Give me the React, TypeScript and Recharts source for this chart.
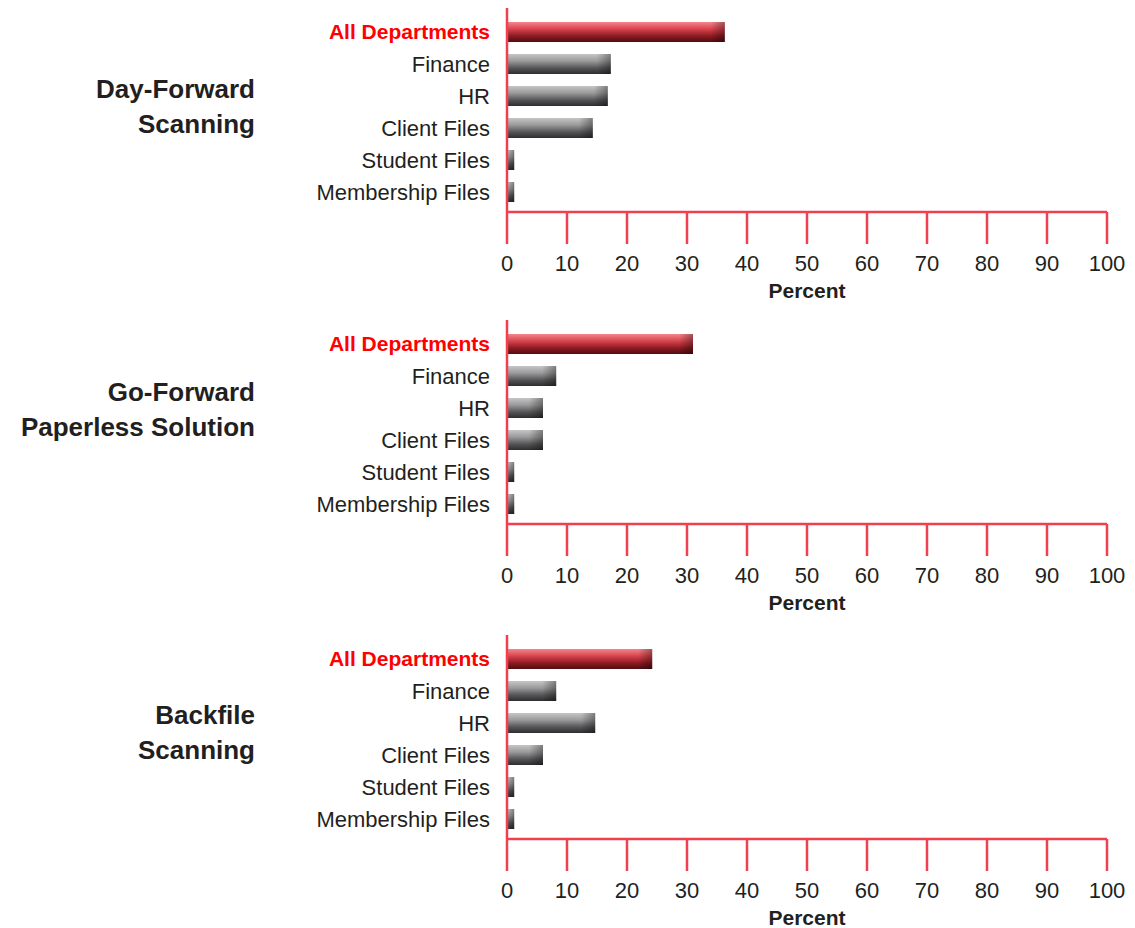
import React from 'react';
import { BarChart, Bar, XAxis, YAxis } from 'recharts';

// categories and percentages for each panel
const departments = [
  'All Departments',
  'Finance',
  'HR',
  'Client Files',
  'Student Files',
  'Membership Files',
];
const dayForwardValues = [36.3, 17.3, 16.8, 14.3, 1.2, 1.2];
const goForwardValues = [31.0, 8.2, 6.0, 6.0, 1.2, 1.2];
const backfileValues = [24.2, 8.2, 14.7, 6.0, 1.2, 1.2];
const percentTicks = [0, 10, 20, 30, 40, 50, 60, 70, 80, 90, 100];

const panels = [
  { id: 'day', title: ['Day-Forward', 'Scanning'], values: dayForwardValues, top: 0, titleTop: 72 },
  { id: 'go', title: ['Go-Forward', 'Paperless Solution'], values: goForwardValues, top: 312, titleTop: 375 },
  { id: 'back', title: ['Backfile', 'Scanning'], values: backfileValues, top: 627, titleTop: 698 },
];

const FONT = '"Liberation Sans", Arial, sans-serif';
const AXIS_RED = '#ef4050';
const TEXT = '#231f20';
const HIGHLIGHT = 'All Departments';

const DeptTick = (props: any) => {
  const { x, y, payload } = props;
  const hl = payload.value === HIGHLIGHT;
  return (
    <text
      x={x}
      y={y}
      dy="0.355em"
      textAnchor="end"
      fontFamily={FONT}
      fontSize={hl ? 21 : 22}
      fontWeight={hl ? 'bold' : 'normal'}
      fill={hl ? '#ff0000' : TEXT}
    >
      {payload.value}
    </text>
  );
};

// shaded bar: vertical gradient plus a darker fade at the end
const makeShape = (prefix: string) => (props: any) => {
  const { x, y, width, height, payload } = props;
  if (!width || width <= 0) return null;
  const hl = payload && payload.name === HIGHLIGHT;
  const base = hl ? `${prefix}-red` : `${prefix}-gray`;
  const endW = Math.min(14, width);
  return (
    <g>
      <rect x={x} y={y} width={width} height={height} fill={`url(#${base})`} />
      <rect x={x + width - endW} y={y} width={endW} height={height} fill={`url(#${prefix}-end)`} />
    </g>
  );
};

function Panel({ id, title, values, top, titleTop }: (typeof panels)[number]) {
  const data = departments.map((name, i) => ({ name, value: values[i] }));
  return (
    <>
      <div
        style={{
          position: 'absolute',
          left: 0,
          top: titleTop,
          width: 255,
          textAlign: 'right',
          fontFamily: FONT,
          fontWeight: 'bold',
          fontSize: 26,
          lineHeight: '35px',
          color: TEXT,
        }}
      >
        {title.map((line) => (
          <div key={line}>{line}</div>
        ))}
      </div>
      <div style={{ position: 'absolute', left: 0, top, width: 1135, height: 304 }}>
        <BarChart
          width={1135}
          height={304}
          data={data}
          layout="vertical"
          margin={{ top: 8, right: 28, left: 0, bottom: 0 }}
        >
          <defs>
            <linearGradient id={`${id}-red`} x1="0" y1="0" x2="0" y2="1">
              <stop offset="0%" stopColor="#f5868c" />
              <stop offset="35%" stopColor="#d8444e" />
              <stop offset="70%" stopColor="#8e1a22" />
              <stop offset="100%" stopColor="#4e0d11" />
            </linearGradient>
            <linearGradient id={`${id}-gray`} x1="0" y1="0" x2="0" y2="1">
              <stop offset="0%" stopColor="#c6c6c6" />
              <stop offset="35%" stopColor="#9a9a9b" />
              <stop offset="70%" stopColor="#555557" />
              <stop offset="100%" stopColor="#2e2e30" />
            </linearGradient>
            <linearGradient id={`${id}-end`} x1="0" y1="0" x2="1" y2="0">
              <stop offset="0%" stopColor="#000" stopOpacity={0} />
              <stop offset="100%" stopColor="#000" stopOpacity={0.35} />
            </linearGradient>
          </defs>
          <Bar
            dataKey="value"
            barSize={20}
            shape={makeShape(id)}
            isAnimationActive={false}
          />
          <XAxis
            type="number"
            domain={[0, 100]}
            ticks={percentTicks}
            interval={0}
            height={92}
            tickSize={32}
            tickMargin={11}
            axisLine={{ stroke: AXIS_RED, strokeWidth: 2.5 }}
            tickLine={{ stroke: AXIS_RED, strokeWidth: 2.5 }}
            tick={{ fontSize: 22, fill: TEXT, fontFamily: FONT }}
            label={{
              value: 'Percent',
              position: 'insideBottom',
              offset: 6,
              fontSize: 21,
              fontWeight: 'bold',
              fill: TEXT,
              fontFamily: FONT,
            }}
          />
          <YAxis
            type="category"
            dataKey="name"
            width={507}
            padding={{ top: 8, bottom: 4 }}
            tickLine={false}
            tickSize={0}
            tickMargin={17}
            interval={0}
            axisLine={{ stroke: AXIS_RED, strokeWidth: 2.5 }}
            tick={<DeptTick />}
          />
        </BarChart>
      </div>
    </>
  );
}

export default function App() {
  return (
    <div
      style={{
        position: 'absolute',
        left: 0,
        top: 0,
        width: 1135,
        height: 928,
        background: '#fff',
        overflow: 'hidden',
      }}
    >
      {panels.map((p) => (
        <Panel key={p.id} {...p} />
      ))}
    </div>
  );
}
